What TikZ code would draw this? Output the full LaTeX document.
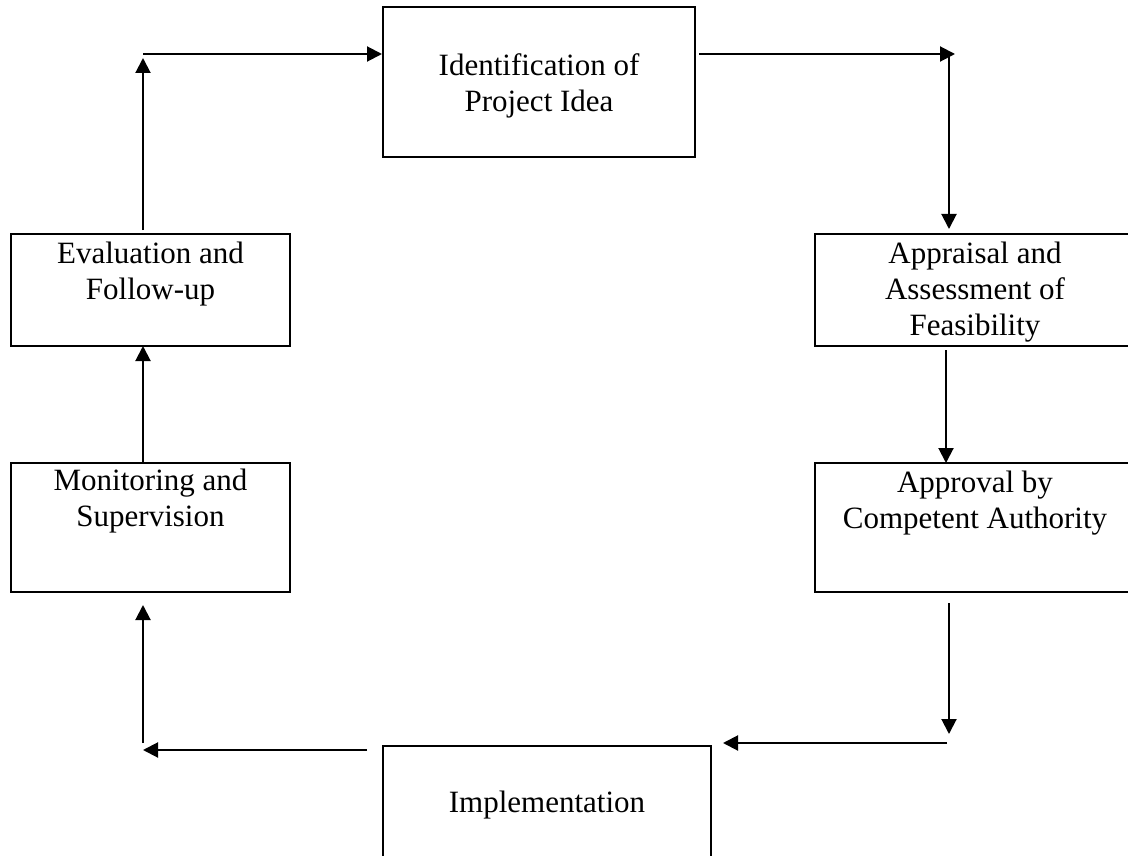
\documentclass[tikz,border=0pt]{standalone}
\usepackage{fontspec}
\setmainfont{Liberation Serif}
\usetikzlibrary{arrows.meta}
\tikzset{
  box/.style={draw=black, line width=2.6pt, rectangle, inner sep=0pt, outer sep=0pt},
  lbl/.style={anchor=north, align=center, inner sep=0pt, font=\fontsize{31}{36}\selectfont},
  arr/.style={draw=black, line width=2pt, -{Triangle[length=15pt,width=15pt]}},
}
\newcommand{\topstrut}{\rule{0pt}{25pt}}
\begin{document}
\begin{tikzpicture}[x=1pt,y=-1pt]
\clip (0,0) rectangle (1128,856);
\fill[white] (0,0) rectangle (1128,856);
% boxes
\node[box, minimum width=312pt, minimum height=150pt] (ident) at (539,82) {};
\node[box, minimum width=320pt, minimum height=112pt] (appr) at (975,290) {};
\node[box, minimum width=320pt, minimum height=129pt] (approv) at (975,527.5) {};
\node[box, minimum width=328pt, minimum height=134pt] (impl) at (547,813) {};
\node[box, minimum width=279pt, minimum height=129pt] (mon) at (150.5,527.5) {};
\node[box, minimum width=279pt, minimum height=112pt] (eval) at (150.5,290) {};
% texts
\node[lbl] (ident-t) at ([yshift=-43pt]ident.north) {\topstrut Identification of\\Project Idea};
\node[lbl] (appr-t) at ([yshift=-4pt]appr.north) {\topstrut Appraisal and\\Assessment of\\Feasibility};
\node[lbl] (approv-t) at ([yshift=-4pt]approv.north) {\topstrut Approval by\\Competent Authority};
\node[lbl] (impl-t) at ([yshift=-41pt]impl.north) {\topstrut Implementation};
\node[lbl] (mon-t) at ([yshift=-2pt]mon.north) {\topstrut Monitoring and\\Supervision};
\node[lbl] (eval-t) at ([yshift=-4pt]eval.north) {\topstrut Evaluation and\\Follow-up};
% connector points
\coordinate (c1) at (143,58);
\coordinate (c1b) at (143,54);
\coordinate (c2) at (955,54);
\coordinate (c3) at (949,54);
\coordinate (c5) at (949,734);
\coordinate (c6) at (947,743);
\coordinate (c7) at (143,750);
\coordinate (c8) at (143,743);
% connectors
\draw[arr] ([yshift=4pt]eval.north -| c1) -- (c1);
\draw[arr] (c1b) -- ([xshift=-1pt]ident.west |- c1b);
\draw[arr] ([xshift=4pt]ident.east |- c2) -- (c2);
\draw[arr] (c3) -- ([yshift=5pt]appr.north -| c3);
\draw[arr] ([xshift=-29pt,yshift=-4pt]appr.south) -- ([xshift=-29pt]approv.north);
\draw[arr] ([xshift=-26pt,yshift=-11pt]approv.south) -- (c5);
\draw[arr] (c6) -- ([xshift=12pt]impl.east |- c6);
\draw[arr] ([xshift=-16pt]impl.west |- c7) -- (c7);
\draw[arr] (c8) -- ([yshift=-13pt]mon.south -| c8);
\draw[arr] (mon.north -| c8) -- (eval.south -| c8);
\end{tikzpicture}
\end{document}
